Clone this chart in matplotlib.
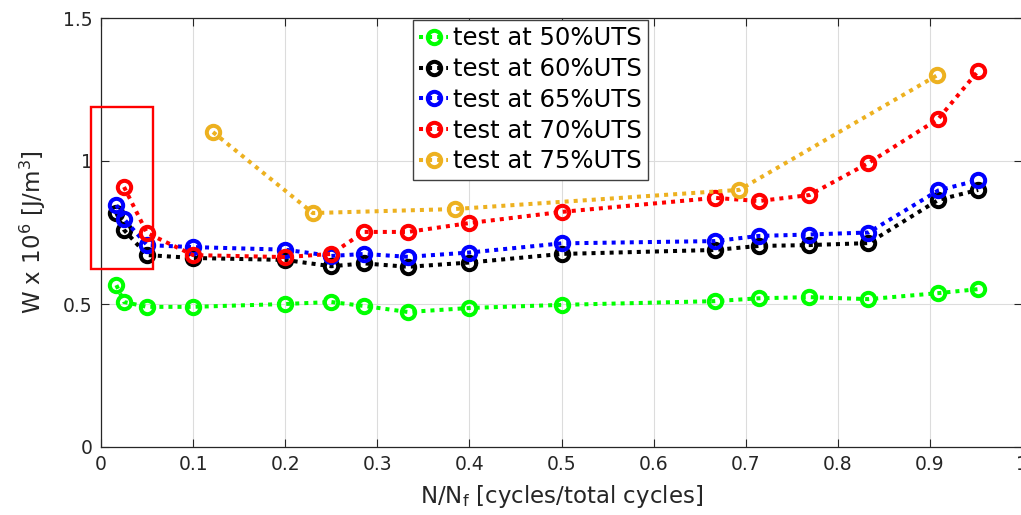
import matplotlib
matplotlib.use("Agg")
import matplotlib.pyplot as plt
from matplotlib.patches import Rectangle

plt.rcParams['font.family'] = ['DejaVu Sans']

x_common = [0.0167, 0.025, 0.05, 0.1, 0.2, 0.25, 0.2857, 0.3333, 0.4, 0.5,
            0.6667, 0.7143, 0.7692, 0.8333, 0.9091, 0.9524]
w_50 = [0.566, 0.507, 0.490, 0.490, 0.500, 0.507, 0.493, 0.472, 0.486, 0.497,
        0.510, 0.520, 0.524, 0.517, 0.538, 0.552]
w_60 = [0.818, 0.759, 0.671, 0.661, 0.654, 0.632, 0.642, 0.630, 0.645, 0.675,
        0.689, 0.703, 0.706, 0.713, 0.864, 0.899]
w_65 = [0.846, 0.797, 0.706, 0.699, 0.690, 0.668, 0.675, 0.665, 0.680, 0.712,
        0.720, 0.738, 0.743, 0.750, 0.897, 0.933]
x_70 = [0.025, 0.05, 0.1, 0.2, 0.25, 0.2857, 0.3333, 0.4, 0.5,
        0.6667, 0.7143, 0.7692, 0.8333, 0.9091, 0.9524]
w_70 = [0.909, 0.748, 0.671, 0.664, 0.675, 0.752, 0.752, 0.783, 0.822,
        0.871, 0.860, 0.881, 0.993, 1.147, 1.315]
x_75 = [0.1216, 0.230, 0.384, 0.693, 0.908]
w_75 = [1.101, 0.818, 0.832, 0.899, 1.300]

labels = ['test at 50%UTS', 'test at 60%UTS', 'test at 65%UTS',
          'test at 70%UTS', 'test at 75%UTS']
colors = ['#00FF00', '#000000', '#0000FF', '#FF0000', '#EDB120']
xticks = [0, 0.1, 0.2, 0.3, 0.4, 0.5, 0.6, 0.7, 0.8, 0.9, 1]
xtick_labels = ['0', '0.1', '0.2', '0.3', '0.4', '0.5', '0.6', '0.7', '0.8', '0.9', '1']
yticks = [0, 0.5, 1, 1.5]
ytick_labels = ['0', '0.5', '1', '1.5']
box_x = [-0.011, 0.0565]
box_y = [0.622, 1.189]

fig = plt.figure(figsize=(10.21, 5.15), dpi=100)
ax = fig.add_axes([101/1021, 68/515, 921/1021, 429/515])

series = [(x_common, w_50), (x_common, w_60), (x_common, w_65), (x_70, w_70), (x_75, w_75)]
for (xs, ys), c, lab in zip(series, colors, labels):
    ax.plot(xs, ys, linestyle=(0, (1, 1.25)), color=c, linewidth=2.9, marker='o',
            markersize=9.6, markerfacecolor='none', markeredgecolor=c,
            markeredgewidth=2.9, label=lab)

ax.add_patch(Rectangle((box_x[0], box_y[0]), box_x[1]-box_x[0], box_y[1]-box_y[0],
                       fill=False, edgecolor='#FF0000', linewidth=1.7, clip_on=False, zorder=5))

ax.set_xlim(0, 1)
ax.set_ylim(0, 1.5)
ax.set_xticks(xticks)
ax.set_xticklabels(xtick_labels)
ax.set_yticks(yticks)
ax.set_yticklabels(ytick_labels)
ax.grid(True, color='#DCDCDC', linewidth=0.8)
ax.set_axisbelow(True)
ax.tick_params(direction='in', top=True, right=True, length=6, width=0.8,
               labelsize=13.5, colors='#262626', pad=6)
for sp in ax.spines.values():
    sp.set_color('#262626')
    sp.set_linewidth(0.9)

ax.set_xlabel(r'N/N$_\mathrm{f}$ [cycles/total cycles]', fontsize=16.5, color='#262626', labelpad=6)
ax.set_ylabel(r'W x 10$^6$ [J/m$^3$]', fontsize=16.5, color='#262626', labelpad=11)

leg = ax.legend(loc='upper left', bbox_to_anchor=(0.339, 0.995), borderaxespad=0,
                fontsize=17.5, fancybox=False, framealpha=1, edgecolor='#404040',
                handlelength=1.2, handletextpad=0.2, labelspacing=0.28,
                borderpad=0.25)
leg.get_frame().set_linewidth(1.0)

fig.savefig('out.png', dpi=100)
